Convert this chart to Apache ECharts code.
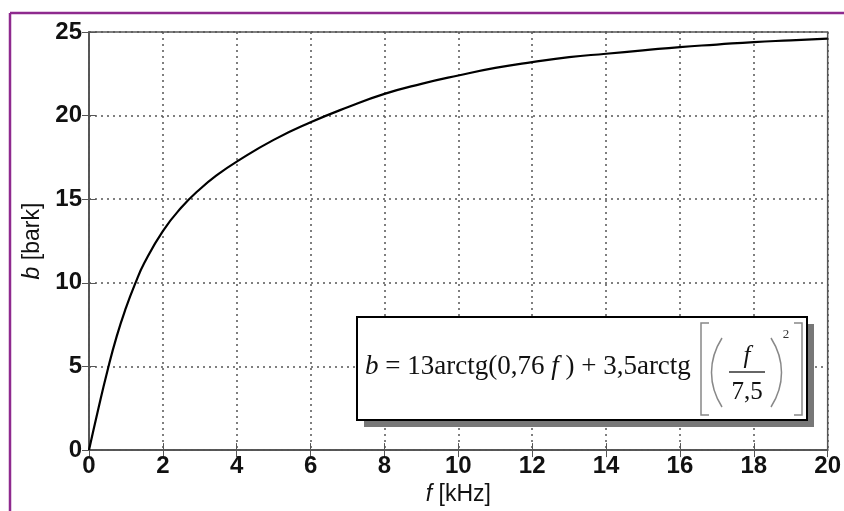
<!DOCTYPE html>
<html>
<head>
<meta charset="utf-8">
<script src="https://cdn.jsdelivr.net/npm/echarts@6/dist/echarts.min.js"></script>
<style>
html,body{margin:0;padding:0;background:#ffffff;}
#chart{width:844px;height:511px;}
</style>
</head>
<body>
<div id="chart"></div>
<script>
// Frequency f [kHz] and critical-band rate b [bark]
var freqKHz = [0, 0.25, 0.5, 0.75, 1, 1.25, 1.5, 2, 2.5, 3, 3.5, 4, 5, 6, 7, 8, 9, 10, 11, 12, 13, 14, 15, 16, 17, 18, 19, 20];
var barkValues = [0, 2.45, 4.75, 6.8, 8.5, 9.95, 11.2, 13.1, 14.5, 15.6, 16.5, 17.25, 18.55, 19.6, 20.5, 21.3, 21.9, 22.4, 22.85, 23.2, 23.5, 23.7, 23.9, 24.1, 24.25, 24.4, 24.5, 24.6];
var xTicks = [0, 2, 4, 6, 8, 10, 12, 14, 16, 18, 20];
var yTicks = [0, 5, 10, 15, 20, 25];

var points = freqKHz.map(function (f, i) { return [f, barkValues[i]]; });

var chart = echarts.init(document.getElementById('chart'), null, {renderer: 'canvas'});
var labelFont = {fontFamily: 'Liberation Sans', fontWeight: 'bold', fontSize: 24, color: '#111'};
var gridLine = {show: true, lineStyle: {color: '#555', type: [2, 4], width: 1.5}};
var serif = 'Liberation Serif';
var nameStyle = {fontFamily: 'Liberation Sans', fontSize: 23, color: '#111',
  rich: {i: {fontFamily: 'Liberation Sans', fontStyle: 'italic', fontSize: 23, color: '#111'}}};

chart.setOption({
  backgroundColor: '#ffffff',
  animation: false,
  grid: {left: 89, right: 12, top: 32, bottom: 59, show: true, borderColor: '#555', borderWidth: 1.5, backgroundColor: '#ffffff'},
  xAxis: [{
    type: 'value', min: xTicks[0], max: xTicks[xTicks.length - 1], interval: 2,
    axisLine: {show: true, lineStyle: {color: '#555', width: 1.5}},
    axisTick: {show: true, inside: true, length: 7, lineStyle: {color: '#555'}},
    axisLabel: Object.assign({margin: 4}, labelFont),
    splitLine: gridLine,
    name: '{i|f} [kHz]', nameLocation: 'middle', nameGap: 29,
    nameTextStyle: nameStyle
  }, {
    type: 'value', position: 'top', min: 0, max: 20, interval: 2,
    axisLine: {show: true, lineStyle: {color: '#555', width: 1.5}},
    axisTick: {show: true, inside: true, length: 7, lineStyle: {color: '#555'}},
    axisLabel: {show: false}, splitLine: {show: false}
  }],
  yAxis: [{
    type: 'value', min: yTicks[0], max: yTicks[yTicks.length - 1], interval: 5,
    axisLine: {show: true, lineStyle: {color: '#555', width: 1.5}},
    axisTick: {show: true, inside: true, length: 7, lineStyle: {color: '#555'}},
    axisLabel: Object.assign({margin: 7}, labelFont),
    splitLine: gridLine,
    name: '{i|b} [bark]', nameLocation: 'middle', nameGap: 39, nameRotate: 90,
    nameTextStyle: nameStyle
  }, {
    type: 'value', position: 'right', min: 0, max: 25, interval: 5,
    axisLine: {show: true, lineStyle: {color: '#555', width: 1.5}},
    axisTick: {show: true, inside: true, length: 7, lineStyle: {color: '#555'}},
    axisLabel: {show: false}, splitLine: {show: false}
  }],
  series: [{
    type: 'line', data: points, smooth: true, showSymbol: false,
    lineStyle: {color: '#000', width: 2.2}, z: 5
  }],
  graphic: [
    {type: 'line', shape: {x1: 10, y1: 13, x2: 10, y2: 511}, style: {stroke: '#8e2a8e', lineWidth: 2.5}, z: 10},
    {type: 'line', shape: {x1: 10, y1: 13, x2: 844, y2: 13}, style: {stroke: '#8e2a8e', lineWidth: 2.5}, z: 10},
    {type: 'rect', shape: {x: 364, y: 324, width: 450, height: 103}, style: {fill: '#777'}, z: 20},
    {type: 'rect', shape: {x: 357, y: 317, width: 450, height: 103}, style: {fill: '#fff', stroke: '#000', lineWidth: 2}, z: 21},
    {type: 'text', x: 365, y: 367, z: 22, style: {
      text: '{i|b} = 13arctg(0,76 {i|f} ) + 3,5arctg',
      font: '27px "Liberation Serif"', fill: '#111', textVerticalAlign: 'middle', textAlign: 'left',
      rich: {i: {fontFamily: serif, fontStyle: 'italic', fontSize: 27, color: '#111'}}
    }},
    {type: 'polyline', shape: {points: [[709, 323], [701, 323], [701, 415], [709, 415]]}, style: {stroke: '#888', lineWidth: 1.5, fill: null}, z: 22},
    {type: 'polyline', shape: {points: [[794, 323], [802, 323], [802, 415], [794, 415]]}, style: {stroke: '#888', lineWidth: 1.5, fill: null}, z: 22},
    {type: 'bezierCurve', shape: {x1: 722, y1: 338, cpx1: 708, cpy1: 360, cpx2: 708, cpy2: 385, x2: 722, y2: 407}, style: {stroke: '#888', lineWidth: 1.5, fill: null}, z: 22},
    {type: 'bezierCurve', shape: {x1: 771, y1: 338, cpx1: 785, cpy1: 360, cpx2: 785, cpy2: 385, x2: 771, y2: 407}, style: {stroke: '#888', lineWidth: 1.5, fill: null}, z: 22},
    {type: 'text', x: 747, y: 356, z: 22, style: {text: 'f', font: 'italic 25px "Liberation Serif"', fill: '#111', textAlign: 'center', textVerticalAlign: 'middle'}},
    {type: 'line', shape: {x1: 729, y1: 372, x2: 765, y2: 372}, style: {stroke: '#333', lineWidth: 1.3}, z: 22},
    {type: 'text', x: 747, y: 392, z: 22, style: {text: '7,5', font: '25px "Liberation Serif"', fill: '#111', textAlign: 'center', textVerticalAlign: 'middle'}},
    {type: 'text', x: 786, y: 335, z: 22, style: {text: '2', font: '13px "Liberation Serif"', fill: '#333', textAlign: 'center', textVerticalAlign: 'middle'}}
  ]
});
</script>
</body>
</html>
